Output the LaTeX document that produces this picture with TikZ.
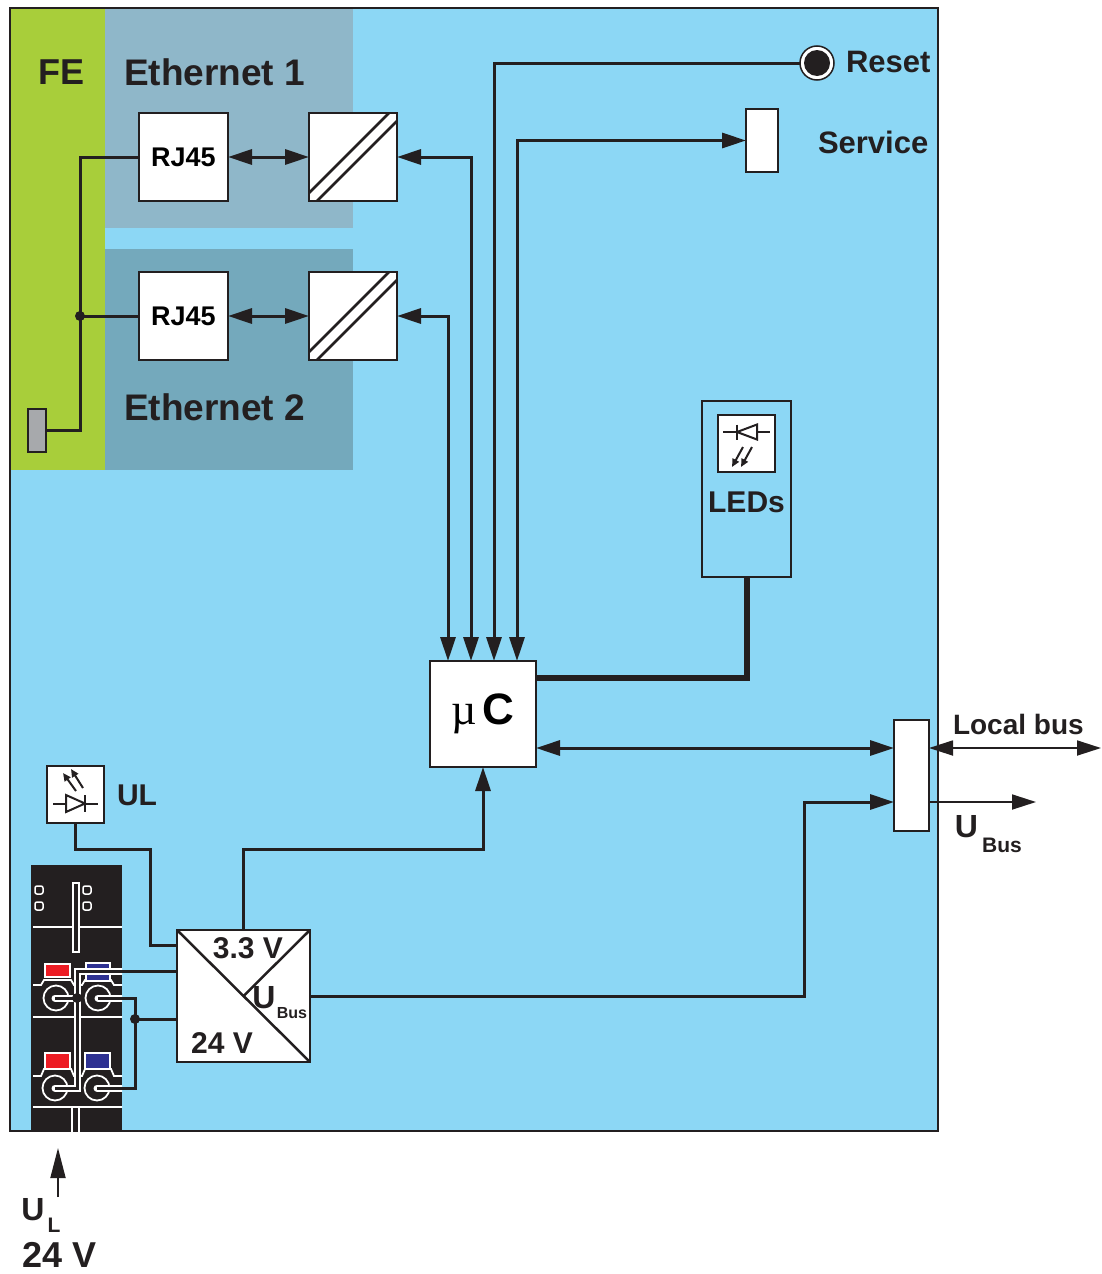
\documentclass[tikz,border=0pt]{standalone}
\usepackage{fontspec}
\setmainfont{Liberation Sans}
\newfontfamily\serifmu{Liberation Serif}
\usetikzlibrary{arrows.meta,calc}
\definecolor{dk}{HTML}{231F20}
\definecolor{mainblue}{HTML}{8CD7F5}
\definecolor{fegreen}{HTML}{A8CE3A}
\definecolor{ethA}{HTML}{8FB7C9}
\definecolor{ethB}{HTML}{74A9BC}
\definecolor{tred}{HTML}{ED1C24}
\definecolor{tblue}{HTML}{2E3192}
\definecolor{gndgray}{HTML}{A7A9AC}
\newcommand{\fsz}[1]{\fontsize{#1}{#1}\selectfont}
\tikzset{
 box/.style={draw=dk, fill=white, line width=2.5pt, inner sep=0pt, outer sep=0pt},
 conn/.style={draw=dk, line width=3pt},
 thinconn/.style={draw=dk, line width=1.8pt},
 txt/.style={inner sep=0pt, outer sep=0pt, text=dk},
 wcase/.style={draw=white, line width=7pt, line cap=round},
 wline/.style={draw=white, line width=1.8pt},
 smallarr/.style={draw=dk, line width=2pt, -{Triangle[length=8pt,width=7pt]}},
}
\begin{document}
\begin{tikzpicture}[x=1pt,y=-1pt, >={Triangle[length=24pt,width=15pt]}]
\useasboundingbox (0,0) rectangle (1101,1274);
% background regions
\fill[mainblue] (10,8) rectangle (938,1131);
\fill[fegreen] (10,8) rectangle (105,470);
\fill[ethA] (105,8) rectangle (353,228);
\fill[ethB] (105,249) rectangle (353,470);
\draw[dk, line width=2pt] (10,8) rectangle (938,1131);

% texts of regions
\node[txt, font=\bfseries\fsz{36}] (fe) at (62,72) {FE};
\node[txt, font=\bfseries\fsz{37}, anchor=west] (eth1) at (124,72) {Ethernet 1};
\node[txt, font=\bfseries\fsz{37}, anchor=west] (eth2) at (124,407) {Ethernet 2};

% boxes
\node[box, minimum width=89pt, minimum height=88pt, font=\bfseries\fsz{27}] (rj1) at (183.5,157) {RJ45};
\node[box, minimum width=88pt, minimum height=88pt] (conv1) at (353,157) {};
\node[box, minimum width=89pt, minimum height=88pt, font=\bfseries\fsz{27}] (rj2) at (183.5,316) {RJ45};
\node[box, minimum width=88pt, minimum height=88pt] (conv2) at (353,316) {};
\foreach \c in {conv1,conv2}{
  \draw[dk, line width=2.5pt] ($(\c.south west)+(0,-8)$) -- ($(\c.north east)+(-8,0)$);
  \draw[dk, line width=2.5pt] ($(\c.south west)+(8,0)$) -- ($(\c.north east)+(0,8)$);
}
\node[box, minimum width=106pt, minimum height=106pt] (uc) at (483,714)
  {{\serifmu\fsz{44}µ}\kern5pt{\bfseries\fsz{44}C}};
\node[box, minimum width=32pt, minimum height=63pt] (svc) at (762,140.5) {};
\node[box, fill=none, line width=2pt, minimum width=89pt, minimum height=176pt] (leds) at (746.5,489) {};
\node[box, line width=2pt, minimum width=57pt, minimum height=57pt] (ledicon) at (746.5,443) {};
\node[txt, font=\bfseries\fsz{30}] (ledtxt) at (746.5,502) {LEDs};
\node[box, minimum width=35pt, minimum height=111pt] (lbus) at (911.5,775.5) {};
\node[box, line width=2pt, minimum width=57pt, minimum height=57pt] (ulicon) at (75.5,794.5) {};
\node[txt, font=\bfseries\fsz{30}, anchor=west] (ultxt) at (117,795) {UL};
\node[box, minimum width=133pt, minimum height=132pt] (psu) at (243.5,996) {};
\draw[dk, line width=2.5pt] (psu.north west) -- (psu.south east);
\draw[dk, line width=2.5pt] (psu.north east) -- (psu.center);
\node[txt, font=\bfseries\fsz{30}] (p33) at (248,948) {3.3 V};
\node[txt, font=\bfseries\fsz{32}] (pu) at (264,998) {U};
\node[txt, font=\bfseries\fsz{16}] (pbus) at (292,1013) {Bus};
\node[txt, font=\bfseries\fsz{30}] (p24) at (222,1043) {24 V};

% reset
\node[circle, draw=dk, line width=1.5pt, fill=white, minimum size=34pt, inner sep=0pt, outer sep=0pt] (reset) at (817,63) {};
\fill[dk] (reset.center) circle (13pt);
\node[txt, font=\bfseries\fsz{31}, anchor=west] (resettxt) at (846,62) {Reset};
\node[txt, font=\bfseries\fsz{31}, anchor=west] (svctxt) at (818,142) {Service};

% ground
\node[draw=dk, fill=gndgray, line width=2pt, minimum width=18pt, minimum height=43pt, inner sep=0pt, outer sep=0pt] (gnd) at (37,430.5) {};
\coordinate (fe1) at (80,157);
\coordinate (fe2) at (80,316);
\draw[conn] (gnd.east) -| (fe1) -- (rj1.west);
\draw[conn] (fe2) -- (rj2.west);
\fill[dk] (fe2) circle (5pt);

% ethernet arrows
\draw[conn,<->] (rj1.east) -- (conv1.west);
\draw[conn,<->] (rj2.east) -- (conv2.west);
\draw[conn,<->] ($(uc.north west)+(18,0)$) |- (conv2.east);
\draw[conn,<->] ($(uc.north west)+(41,0)$) |- (conv1.east);
\draw[conn,->] (reset.west) -| ($(uc.north west)+(64,0)$);
\draw[conn,<->] ($(uc.north west)+(87,0)$) |- (svc.west);
\draw[dk, line width=6pt] (leds.south) |- ($(uc.north east)+(0,17)$);

% local bus
\coordinate (ucb) at ($(uc.south east)+(0,-19)$);
\draw[conn,<->] (ucb) -- (ucb -| lbus.west);
\coordinate (lbo) at (1101,748);
\draw[thinconn,<->] (lbus.east |- lbo) -- (lbo);
\coordinate (ubo) at (1036,802);
\draw[thinconn,->] (lbus.east |- ubo) -- (ubo);
\node[txt, font=\bfseries\fsz{28}, anchor=west] (lbtxt) at (953,724) {Local bus};
\node[txt, font=\bfseries\fsz{32}] (ubu) at (966.5,827) {U};
\node[txt, font=\bfseries\fsz{21}] (ubbus) at (1002,845) {Bus};

% power connections
\draw[conn,->] (psu.east) -- ++(494,0) |- (lbus.west |- ubo);
\draw[conn,->] (psu.north) -- ++(0,-81) -| (uc.south);
\draw[conn] (ulicon.south) |- (150,849) |- ($(psu.north west)+(0,15)$);

% LED icon
\draw[dk, line width=2pt] (723,432) -- (770,432);
\draw[dk, line width=2pt, fill=white] (737,432) -- (757,424.5) -- (757,439.5) -- cycle;
\draw[dk, line width=2pt] (737,424.5) -- (737,439.5);
\draw[smallarr] (743,447) -- (732,467);
\draw[smallarr] (752,447) -- (741,467);

% UL icon
\draw[dk, line width=2pt] (53,803.5) -- (98,803.5);
\draw[dk, line width=2pt, fill=white] (85,803.5) -- (66,795) -- (66,812) -- cycle;
\draw[dk, line width=2pt] (85,795) -- (85,812);
\draw[smallarr] (76,791) -- (63,773);
\draw[smallarr] (83,788) -- (71,769);

% terminal block
\node[fill=dk, minimum width=91pt, minimum height=266pt, inner sep=0pt, outer sep=0pt, anchor=north west] (term) at (31,865) {};
\begin{scope}
\clip (31,865) rectangle (122,1131);
\draw[white, line width=1.5pt, rounded corners=2pt] (35,886) rectangle (43,894) (35,902) rectangle (43,910)
  (83,886) rectangle (91,894) (83,902) rectangle (91,910);
\draw[wline] (33,927) -- (122,927);
\draw[wline, fill=dk] (73,883) rectangle (79,952);
\draw[wline] (33,985) -- (41,985) -- (44,980) -- (71,980) -- (74,985) -- (82,985) -- (85,980) -- (111,980) -- (114,985) -- (123,985);
\draw[white, line width=1.5pt, fill=tred] (45,964) rectangle (70,977);
\draw[white, line width=1.5pt, fill=tblue] (86,963) rectangle (110,981);
\draw[wline, fill=dk] (56,998) circle (12.5pt) (98,998) circle (12.5pt);
\draw[wline] (33,1017) -- (123,1017);
\draw[wline] (33,1076) -- (41,1076) -- (44,1069) -- (71,1069) -- (74,1076) -- (82,1076) -- (85,1069) -- (111,1069) -- (114,1076) -- (123,1076);
\draw[white, line width=1.5pt, fill=tred] (45,1053) rectangle (70,1069);
\draw[white, line width=1.5pt, fill=tblue] (85,1053) rectangle (110,1069);
\draw[wline, fill=dk] (55,1088) circle (12.5pt) (97,1088) circle (12.5pt);
\draw[wline] (33,1107) -- (123,1107);
\draw[wline, fill=dk] (72,1107) rectangle (79,1135);
% wire casings
\draw[wcase] (140,971) -- (77,971) -- (77,1088) -- (55,1088);
\draw[wcase] (55,998) -- (77,998);
\draw[wcase] (98,998) -- (140,998);
\draw[wcase] (97,1088) -- (140,1088);
\end{scope}
\coordinate (pa) at ($(psu.north west)+(0,41)$);
\coordinate (pb) at ($(psu.north west)+(0,89)$);
\coordinate (jb) at (135,1019);
\draw[conn] (pa) -| (77,1088) -- (55,1088);
\draw[conn] (55,998) -- (77,998);
\fill[dk] (77,998) circle (5pt);
\draw[conn] (pb) -- (jb);
\draw[conn] (98,998) -| (135,1088) -- (97,1088);
\fill[dk] (jb) circle (5pt);

% U_L input
\coordinate (ulin) at (58,1148);
\coordinate (ulstart) at (58,1197);
\draw[draw=dk, line width=1.8pt, -{Triangle[length=30pt,width=15pt]}] (ulstart) -- (ulin);
\node[txt, font=\bfseries\fsz{32}] (ulu) at (33,1210) {U};
\node[txt, font=\bfseries\fsz{21}] (ull) at (54,1225) {L};
\node[txt, font=\bfseries\fsz{36}, anchor=west] (ul24) at (22,1255) {24 V};
\end{tikzpicture}
\end{document}
